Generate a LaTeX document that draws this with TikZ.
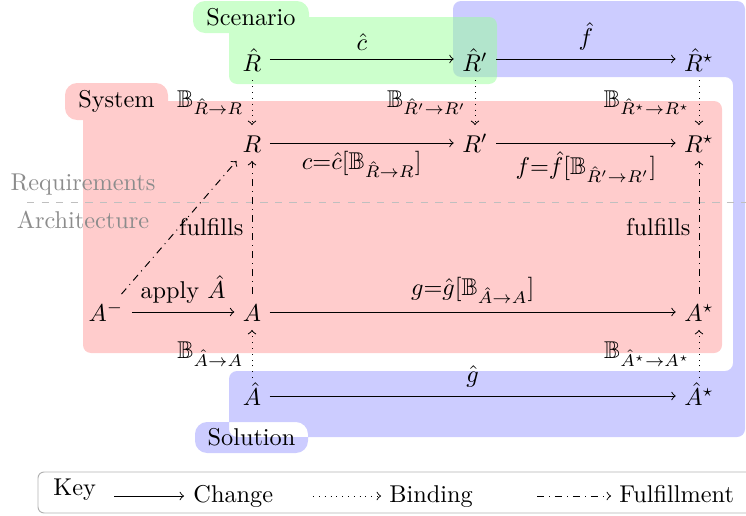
\documentclass[tikz,border=0pt]{standalone}
\usepackage{amsmath,amssymb}
\begin{document}
\begin{tikzpicture}[x=0.4115pt,y=-0.4115pt,
  hrow/.style={text height=10.5pt,text depth=0pt},
  prow/.style={text height=7.7pt,text depth=0pt},
  change/.style={->},
  binding/.style={->,dotted},
  fulfil/.style={->,dash dot},
  tablab/.style={inner sep=0pt},
  sidelab/.style={text=black!45,anchor=base},
  keytext/.style={anchor=base west,inner sep=0pt}]
\useasboundingbox (0,0) rectangle (746,515);
% regions
\fill[blue!40,opacity=.5,rounded corners=3.3pt] (453,1) -- (745,1) -- (745,437) -- (229,437) -- (229,371) -- (733,371) -- (733,77) -- (453,77) -- cycle [rounded corners=5pt] (195,422) rectangle (308,453);
\fill[green!40,opacity=.5] [rounded corners=3.3pt] (229,17) rectangle (497,84) [rounded corners=5pt] (193,1) rectangle (309,33);
\fill[red!40,opacity=.5] [rounded corners=3.3pt] (83,101) rectangle (722,353) [rounded corners=5pt] (65,83) rectangle (168,120);
\node[tablab] (scen) at (251,17) {Scenario};
\node[tablab] (sys) at (116.5,101.5) {System};
\node[tablab] (sol) at (251.5,437.5) {Solution};
% requirements / architecture divider
\coordinate (dl) at (27,202);
\coordinate (dr) at (746,202);
\draw[black!25,dashed] (dl) -- (dr);
\node[sidelab] (req) at (83,190) {Requirements};
\node[sidelab] (arch) at (83,228) {Architecture};
% nodes
\node[hrow] (Rh)  at (252,59) {$\hat{R}$};
\node[hrow] (Rhp) at (475,59) {$\hat{R}'$};
\node[hrow] (Rhs) at (699,59) {$\hat{R}^\star$};
\node[prow] (R)   at (252,143) {$R$};
\node[prow] (Rp)  at (475,143) {$R'$};
\node[prow] (Rs)  at (699,143) {$R^\star$};
\node[prow] (Am)  at (106,312) {$A^-$};
\node[prow] (A)   at (252,312) {$A$};
\node[prow] (As)  at (699,312) {$A^\star$};
\node[prow] (Ah)  at (252,396) {$\hat{A}$};
\node[prow] (Ahs) at (699,396) {$\hat{A}^\star$};
% changes
\draw[change] (Rh) -- node[above] {$\hat{c}$} (Rhp);
\draw[change] (Rhp) -- node[above] {$\hat{f}$} (Rhs);
\draw[change] (R) -- node[below] {$c{=}\hat{c}[\mathbb{B}_{\hat{R}\to R}]$} (Rp);
\draw[change] (Rp) -- node[below] {$f{=}\hat{f}[\mathbb{B}_{\hat{R}'\to R'}]$} (Rs);
\draw[change] (Am) -- node[above] {apply $\hat{A}$} (A);
\draw[change] (A) -- node[above] {$g{=}\hat{g}[\mathbb{B}_{\hat{A}\to A}]$} (As);
\draw[change] (Ah) -- node[above] {$\hat{g}$} (Ahs);
% bindings
\draw[binding] (Rh) -- node[left] {$\mathbb{B}_{\hat{R}\to R}$} (R);
\draw[binding] (Rhp) -- node[left] {$\mathbb{B}_{\hat{R}'\to R'}$} (Rp);
\draw[binding] (Rhs) -- node[left] {$\mathbb{B}_{\hat{R}^\star\to R^\star}$} (Rs);
\draw[binding] (Ah) -- node[left] {$\mathbb{B}_{\hat{A}\to A}$} (A);
\draw[binding] (Ahs) -- node[left] {$\mathbb{B}_{\hat{A}^\star\to A^\star}$} (As);
% fulfillments
\draw[fulfil] (Am) -- (R);
\draw[fulfil] (A) -- node[left] {fulfills} (R);
\draw[fulfil] (As) -- node[left] {fulfills} (Rs);
% key
\draw[black!30,rounded corners=2.5pt] (38,472) rectangle (790,513);
\node[keytext] (key) at (53,495) {Key};
\coordinate (k1a) at (114,496);
\coordinate (k1b) at (184,496);
\draw[change] (k1a) -- (k1b);
\node[keytext] (kchange) at (193,502) {Change};
\coordinate (k2a) at (313,496);
\coordinate (k2b) at (381,496);
\draw[binding] (k2a) -- (k2b);
\node[keytext] (kbind) at (389,502) {Binding};
\coordinate (k3a) at (537,496);
\coordinate (k3b) at (611,496);
\draw[fulfil] (k3a) -- (k3b);
\node[keytext] (kful) at (619,502) {Fulfillment};
\end{tikzpicture}
\end{document}
